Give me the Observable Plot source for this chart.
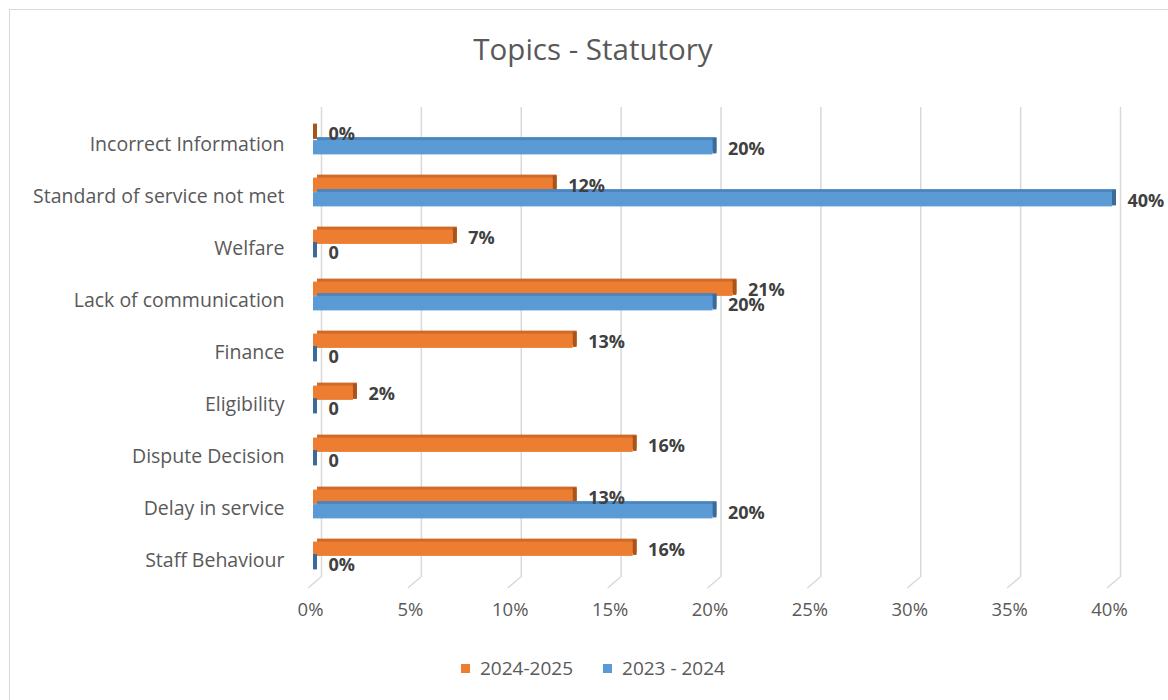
<!DOCTYPE html>
<html>
<head>
<meta charset="utf-8">
<script src="https://cdn.jsdelivr.net/npm/d3@7"></script>
<script src="https://cdn.jsdelivr.net/npm/@observablehq/plot@0.6"></script>
<style>
  html, body { margin: 0; padding: 0; background: #fff; }
  body { font-family: "Open Sans", sans-serif; }
  #wrap { position: relative; width: 1168px; height: 700px; overflow: hidden; }
  #border { position: absolute; left: 9px; top: 9px; width: 1170px; height: 700px; border: 1px solid #d9d9d9; box-sizing: border-box; }
  #title { position: absolute; left: 0; top: 29px; width: 1186px; text-align: center; font-size: 29.5px; line-height: 40px; color: #595959; }
  #chart { position: absolute; left: 0; top: 90px; }
  #legend { position: absolute; left: 461px; top: 656px; display: flex; align-items: center; font-size: 19px; line-height: 24px; color: #595959; }
  .sw { width: 9px; height: 9px; display: inline-block; margin-right: 10px; }
</style>
</head>
<body>
<div id="wrap">
  <div id="border"></div>
  <div id="title">Topics - Statutory</div>
  <div id="chart"></div>
  <div id="legend"></div>
</div>
<script>
const categories = ["Incorrect Information", "Standard of service not met", "Welfare", "Lack of communication", "Finance", "Eligibility", "Dispute Decision", "Delay in service", "Staff Behaviour"];
const seriesNames = ["2024-2025", "2023 - 2024"];
const values2024_25 = [0, 12, 7, 21, 13, 2, 16, 13, 16];
const values2023_24 = [20, 40, 0, 20, 0, 0, 0, 20, 0];
const labels2024_25 = ["0%", "12%", "7%", "21%", "13%", "2%", "16%", "13%", "16%"];
const labels2023_24 = ["20%", "40%", "0", "20%", "0", "0", "0", "20%", "0%"];
const xTicks = [0, 5, 10, 15, 20, 25, 30, 35, 40];
const xTickLabels = ["0%", "5%", "10%", "15%", "20%", "25%", "30%", "35%", "40%"];

const colors = {
  "2024-2025": {front: "#ED7D31", top: "#CF6A27", side: "#A9541B"},
  "2023 - 2024": {front: "#5B9BD5", top: "#4A86BF", side: "#3B6C99"}
};

const rowsA = categories.map((c, i) => ({category: c, series: seriesNames[0], value: values2024_25[i], label: labels2024_25[i]}));
const rowsB = categories.map((c, i) => ({category: c, series: seriesNames[1], value: values2023_24[i], label: labels2023_24[i]}));

function barMarks(rows, s, insetTop, insetBottom) {
  const col = colors[s];
  return [
    Plot.barX(rows, {x1: 0, x2: "value", y: "category", insetTop, insetBottom, dx: 4, dy: -3, fill: col.top}),
    Plot.barX(rows, {x1: "value", x2: "value", y: "category", insetTop: insetTop - 2, insetBottom: insetBottom + 1, insetRight: -4, fill: col.side}),
    Plot.barX(rows, {x1: 0, x2: "value", y: "category", insetTop, insetBottom, fill: col.front})
  ];
}

// 3D floor edges of the gridlines, positioned through the x scale
function floorMark(index, scales, values, dimensions) {
  const g = d3.create("svg:g").attr("stroke", "#d9d9d9").attr("stroke-width", 1.5).attr("fill", "none");
  const yb = dimensions.height - dimensions.marginBottom;
  for (const t of xTicks) {
    const px = scales.x(t);
    g.append("path").attr("d", `M${px + 8},${yb - 6}L${px - 5},${yb + 5}`);
  }
  return g.node();
}

const chart = Plot.plot({
  width: 1168,
  height: 555,
  marginLeft: 313,
  marginRight: 56,
  marginTop: 23,
  marginBottom: 62,
  style: {fontFamily: "Open Sans, sans-serif", background: "transparent"},
  x: {domain: [0, 40], axis: null},
  y: {domain: categories, padding: 0, axis: null},
  marks: [
    Plot.ruleX(xTicks, {x: d => d, dx: 8, dy: -6, stroke: "#d9d9d9", strokeWidth: 1.5}),
    floorMark,
    ...barMarks(rowsA, seriesNames[0], 11.6, 26.1),
    ...barMarks(rowsB, seriesNames[1], 26.1, 11.6),
    Plot.text(rowsA, {x: "value", y: "category", text: "label", dx: 15, dy: -6, textAnchor: "start", fontWeight: "bold", fontSize: 18, fill: "#404040"}),
    Plot.text(rowsB, {x: "value", y: "category", text: "label", dx: 15, dy: 9, textAnchor: "start", fontWeight: "bold", fontSize: 18, fill: "#404040"}),
    Plot.text(categories, {y: d => d, text: d => d, frameAnchor: "left", dx: -29, dy: 4, textAnchor: "end", fontSize: 19.5, fill: "#595959"}),
    Plot.text(xTicks, {x: d => d, text: (d, i) => xTickLabels[i], frameAnchor: "bottom", dx: -3, dy: 32, fontSize: 18.5, fill: "#595959"})
  ]
});
document.getElementById("chart").appendChild(chart);

const legend = document.getElementById("legend");
seriesNames.forEach((s, i) => {
  const item = document.createElement("span");
  item.style.display = "inline-flex";
  item.style.alignItems = "center";
  if (i > 0) item.style.marginLeft = "30px";
  const sw = document.createElement("span");
  sw.className = "sw";
  sw.style.background = colors[s].front;
  const tx = document.createElement("span");
  tx.textContent = s;
  item.appendChild(sw);
  item.appendChild(tx);
  legend.appendChild(item);
});
</script>
</body>
</html>
